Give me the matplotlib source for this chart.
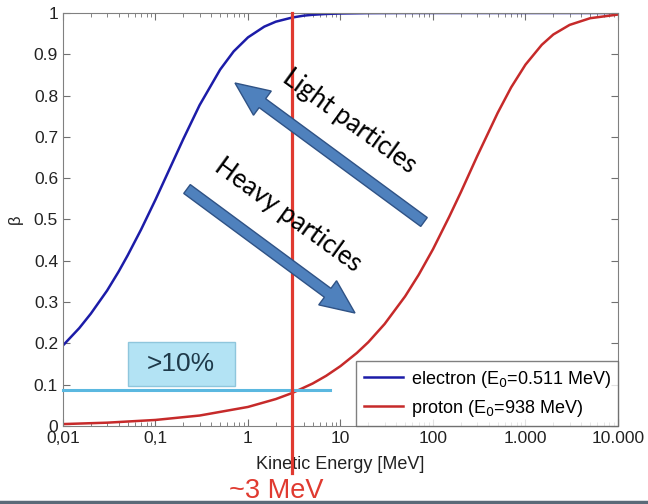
import numpy as np
import matplotlib
matplotlib.use('Agg')
import matplotlib.pyplot as plt
from matplotlib.patches import FancyArrow, Rectangle
from matplotlib.transforms import IdentityTransform
from matplotlib.lines import Line2D

# values
energy_e = [0.01, 0.015, 0.02, 0.03, 0.04, 0.05, 0.07, 0.1, 0.15, 0.2, 0.3, 0.5, 0.7,
            1, 1.5, 2, 3, 4, 5, 7, 10, 20, 50, 100, 1000, 10000]
beta_e = [0.195, 0.237, 0.272, 0.328, 0.374, 0.413, 0.476, 0.548, 0.634, 0.695, 0.777,
          0.863, 0.907, 0.941, 0.967, 0.979, 0.989, 0.9936, 0.9957, 0.9977, 0.9988,
          0.9997, 1.0, 1.0, 1.0, 1.0]

energy_p = [0.01, 0.03, 0.1, 0.3, 1, 2, 3, 5, 7, 10, 15, 20, 30, 50, 70, 100, 150, 200,
            300, 500, 700, 1000, 1500, 2000, 3000, 5000, 10000]
beta_p = [0.0046, 0.008, 0.0146, 0.0253, 0.0461, 0.0652, 0.0798, 0.1028, 0.1215, 0.145,
          0.1767, 0.203, 0.247, 0.314, 0.366, 0.428, 0.507, 0.566, 0.653, 0.758, 0.820,
          0.875, 0.923, 0.948, 0.9712, 0.9874, 0.9963]

xticks = [0.01, 0.1, 1, 10, 100, 1000, 10000]
xticklabels = ['0,01', '0,1', '1', '10', '100', '1.000', '10.000']
yticks = [0, 0.1, 0.2, 0.3, 0.4, 0.5, 0.6, 0.7, 0.8, 0.9, 1]
yticklabels = ['0', '0.1', '0.2', '0.3', '0.4', '0.5', '0.6', '0.7', '0.8', '0.9', '1']

e_cut = 3        # MeV, red marker line
beta_cut = 0.087  # cyan line level

plt.rcParams['font.family'] = ['Liberation Sans', 'DejaVu Sans']

fig = plt.figure(figsize=(6.48, 5.04), dpi=100)
ax = fig.add_axes([0.0972, 0.1548, 0.8565, 0.8194])

ax.plot(energy_e, beta_e, color='#1c1ca8', lw=1.8, label='electron (E$_0$=0.511 MeV)')
ax.plot(energy_p, beta_p, color='#c62a2a', lw=1.8, label='proton (E$_0$=938 MeV)')

ax.set_xscale('log')
ax.set_xlim(0.01, 10000)
ax.set_ylim(0, 1)
ax.set_xticks(xticks)
ax.set_xticklabels(xticklabels)
ax.set_yticks(yticks)
ax.set_yticklabels(yticklabels)
ax.tick_params(which='both', direction='in', top=True, right=True, color='#707070',
               labelsize=12.5, labelcolor='#222222')
ax.tick_params(which='major', length=5)
ax.tick_params(which='minor', length=3)
for s in ax.spines.values():
    s.set_color('#808080')
ax.set_xlabel('Kinetic Energy [MeV]', fontsize=13, color='#222222', labelpad=7)
ax.set_ylabel('β', fontsize=12, color='#222222', labelpad=8)

H = 504

# cyan 10% line and label box
ax.plot([0.01, 7.7], [beta_cut, beta_cut], color='#5bb8e0', lw=2.2, clip_on=False, zorder=3)
box = Rectangle((128, H - 386), 107, 44, fc='#b3e3f4', ec='#8fc6dc', lw=1,
                transform=IdentityTransform(), zorder=4)
fig.add_artist(box)
fig.text(181 / 648, 1 - 364 / H, '>10%', fontsize=19, color='#1f3a4a',
         ha='center', va='center', zorder=5)

# red 3 MeV line
ax.axvline(e_cut, ymin=-0.114, ymax=1, color='#e03a30', lw=2.3, clip_on=False, zorder=5)
fig.text(276 / 648, 1 - 498 / H, '~3 MeV', color='#e03a30', fontsize=19.5,
         ha='center', va='baseline')

leg = ax.legend(loc='lower right', fontsize=13, frameon=True, fancybox=False,
                edgecolor='#606060', handlelength=2.2, borderaxespad=0.0,
                handletextpad=0.4, labelspacing=0.45, borderpad=0.4)
leg.get_frame().set_linewidth(1.0)

# block arrows, drawn in pixel coordinates
arrow_kw = dict(width=11, head_width=30, head_length=34, length_includes_head=True,
                fc='#4f81bd', ec='#2f5285', lw=1.0, transform=IdentityTransform(), zorder=6)
light = FancyArrow(424, H - 222, 235 - 424, (H - 83) - (H - 222), **arrow_kw)
heavy = FancyArrow(187, H - 189, 355 - 187, (H - 313) - (H - 189), **arrow_kw)
fig.add_artist(light)
fig.add_artist(heavy)

fig.text(349 / 648, 1 - 121 / H, 'Light particles', rotation=-36, fontsize=18.5,
         family=['Lato', 'DejaVu Sans'], ha='center', va='center', rotation_mode='anchor')
fig.text(288 / 648, 1 - 215 / H, 'Heavy particles', rotation=-36, fontsize=18.5,
         family=['Lato', 'DejaVu Sans'], ha='center', va='center', rotation_mode='anchor')

# slide border at bottom
fig.add_artist(Line2D([0, 1], [1 - 502 / H, 1 - 502 / H], color='#5a6a78', lw=2.5))

fig.savefig('out.png', dpi=100)
